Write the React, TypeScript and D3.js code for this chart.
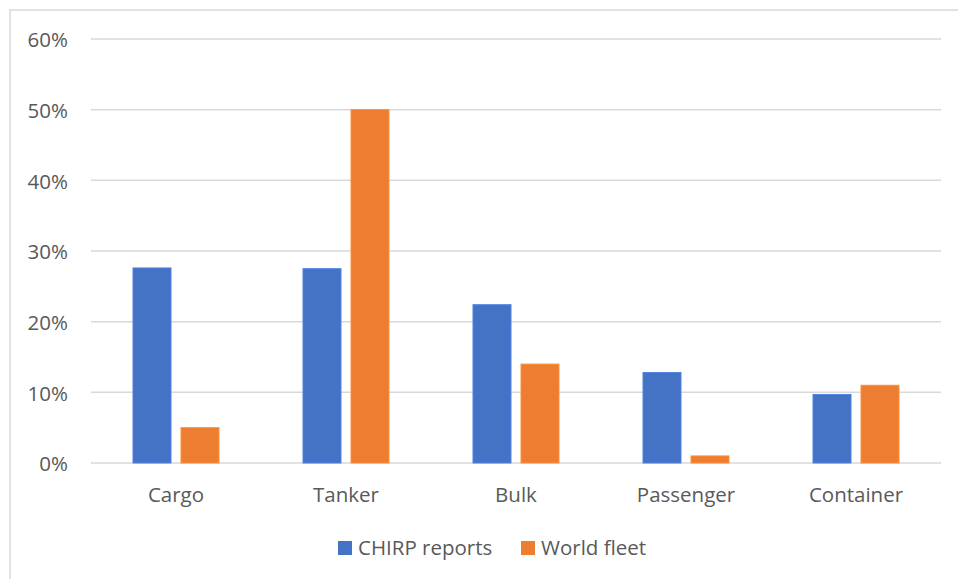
import React, { useEffect, useRef } from "react";
import * as d3 from "d3";

// Share of reports and of the world fleet by ship type
const categories = ["Cargo", "Tanker", "Bulk", "Passenger", "Container"];
const chirpReports = [27.6, 27.5, 22.4, 12.8, 9.7];
const worldFleet = [5.0, 50.0, 14.0, 1.0, 11.0];
const seriesNames = ["CHIRP reports", "World fleet"];
const seriesColors = ["#4472C4", "#ED7D31"];
const yTicks = [0, 10, 20, 30, 40, 50, 60];

const W = 958;
const H = 579;
const FONT = "'Open Sans', 'Noto Sans', sans-serif";
const FS = 20.5;
const TEXT = "#595959";
const GRID = "#d9d9d9";

export default function App() {
  const ref = useRef<SVGSVGElement | null>(null);

  useEffect(() => {
    const svg = d3.select(ref.current);
    svg.selectAll("*").remove();

    const left = 91, right = 941, top = 39, bottom = 463;

    // outer frame
    svg.append("rect")
      .attr("x", 10).attr("y", 10)
      .attr("width", W + 20).attr("height", H + 20)
      .attr("fill", "white").attr("stroke", GRID).attr("stroke-width", 1.5);

    const y = d3.scaleLinear().domain([0, 60]).range([bottom, top]);
    const x0 = d3.scaleBand<string>().domain(categories).range([left, right]);
    const barW = 38;
    const gap = 10;

    // gridlines and y labels
    const g = svg.append("g");
    g.selectAll("line.grid").data(yTicks).enter().append("line")
      .attr("x1", left).attr("x2", right)
      .attr("y1", (d) => y(d)).attr("y2", (d) => y(d))
      .attr("stroke", GRID).attr("stroke-width", 1.5);
    g.selectAll("text.ytick").data(yTicks).enter().append("text")
      .attr("x", 68).attr("y", (d) => y(d) + 1)
      .attr("dy", "0.35em")
      .attr("text-anchor", "end")
      .attr("font-family", FONT).attr("font-size", FS).attr("fill", TEXT)
      .text((d) => `${d}%`);

    const series = [chirpReports, worldFleet];
    series.forEach((vals, si) => {
      svg.append("g").selectAll("rect").data(vals).enter().append("rect")
        .attr("x", (_d, i) => {
          const c = x0(categories[i])! + x0.bandwidth() / 2;
          return si === 0 ? c - gap / 2 - barW : c + gap / 2;
        })
        .attr("y", (d) => y(d))
        .attr("width", barW)
        .attr("height", (d) => bottom - y(d))
        .attr("fill", seriesColors[si])
        .attr("stroke", d3.color(seriesColors[si])!.brighter(0.4).formatHex())
        .attr("stroke-width", 1);
    });

    // category labels
    svg.append("g").selectAll("text").data(categories).enter().append("text")
      .attr("x", (d) => x0(d)! + x0.bandwidth() / 2)
      .attr("y", 495)
      .attr("dy", "0.35em")
      .attr("text-anchor", "middle")
      .attr("font-family", FONT).attr("font-size", FS).attr("fill", TEXT)
      .text((d) => d);

    // legend
    const legendX = [338, 521];
    const lg = svg.append("g");
    seriesNames.forEach((name, i) => {
      lg.append("rect")
        .attr("x", legendX[i]).attr("y", 541)
        .attr("width", 14).attr("height", 14)
        .attr("fill", seriesColors[i]);
      lg.append("text")
        .attr("x", legendX[i] + 20).attr("y", 548)
        .attr("dy", "0.35em")
        .attr("font-family", FONT).attr("font-size", FS).attr("fill", TEXT)
        .text(name);
    });
  }, []);

  return (
    <svg
      ref={ref}
      width={W}
      height={H}
      style={{ position: "fixed", left: 0, top: 0, background: "white" }}
    />
  );
}
